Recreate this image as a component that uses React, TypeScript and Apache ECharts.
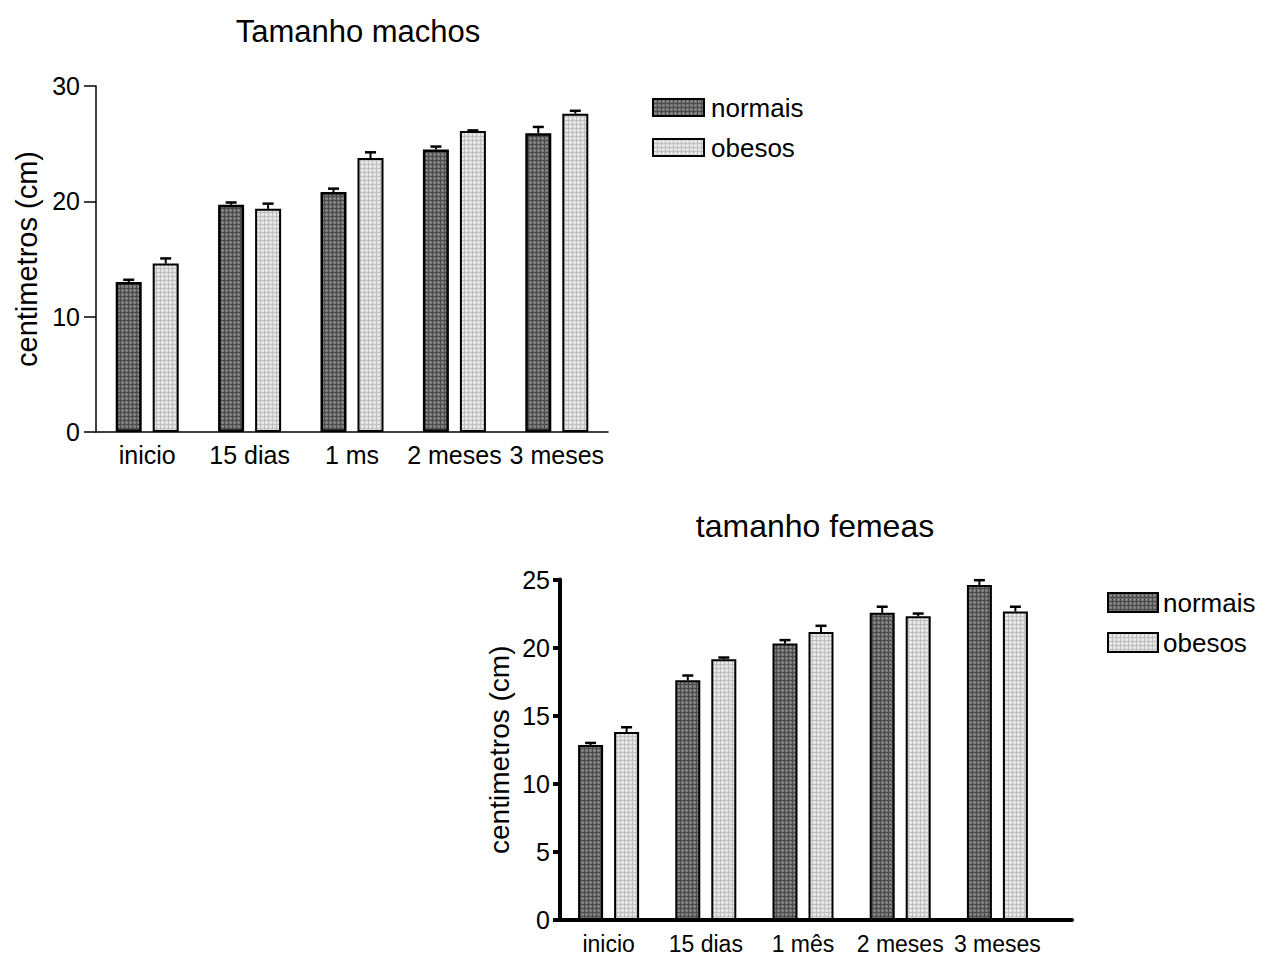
import React, { useEffect, useRef } from "react";
import * as echarts from "echarts";

const categoriesM = ["inicio", "15 dias", "1 ms", "2 meses", "3 meses"];
const machosNormais = [13.0, 19.7, 20.8, 24.5, 25.9];
const machosNormaisErr = [0.2, 0.2, 0.3, 0.25, 0.55];
const machosObesos = [14.6, 19.35, 23.75, 26.1, 27.6];
const machosObesosErr = [0.45, 0.45, 0.5, 0.05, 0.25];

const categoriesF = ["inicio", "15 dias", "1 mês", "2 meses", "3 meses"];
const femeasNormais = [12.85, 17.6, 20.3, 22.55, 24.6];
const femeasNormaisErr = [0.15, 0.35, 0.25, 0.45, 0.35];
const femeasObesos = [13.8, 19.15, 21.15, 22.3, 22.65];
const femeasObesosErr = [0.35, 0.12, 0.45, 0.2, 0.35];

const yTicksM = { min: 0, max: 30, interval: 10 };
const yTicksF = { min: 0, max: 25, interval: 5 };

const FONT = "'Liberation Sans', Arial, Helvetica, sans-serif";

function makePattern(base: string, line: string, dot: string) {
  const c = document.createElement("canvas");
  c.width = 4;
  c.height = 4;
  const ctx = c.getContext("2d")!;
  ctx.fillStyle = base;
  ctx.fillRect(0, 0, 4, 4);
  ctx.fillStyle = line;
  ctx.fillRect(0, 0, 4, 1);
  ctx.fillRect(0, 0, 1, 4);
  ctx.fillStyle = dot;
  ctx.fillRect(2, 2, 1, 1);
  return { image: c, repeat: "repeat" as const };
}

export default function App() {
  const ref = useRef<HTMLDivElement>(null);

  useEffect(() => {
    if (!ref.current) return;
    const chart = echarts.init(ref.current, undefined, { renderer: "svg" });

    const darkFill = makePattern("#777777", "#4c4c4c", "#9a9a9a");
    const lightFill = makePattern("#e2e2e2", "#c0c0c0", "#f4f4f4");

    const wM = 26;
    const gM = 11;
    const wF = 25;
    const gF = 11;

    const errSeries = (
      name: string,
      values: number[],
      errs: number[],
      offset: number,
      axisIdx: number
    ) => ({
      type: "custom",
      name,
      xAxisIndex: axisIdx,
      yAxisIndex: axisIdx,
      z: 5,
      silent: true,
      data: values.map((v, i) => [i, v, errs[i]]),
      renderItem: (params: any, api: any) => {
        const x = api.value(0);
        const v = api.value(1);
        const e = api.value(2);
        const p = api.coord([x, v]);
        const q = api.coord([x, v + e]);
        const cx = p[0] + offset;
        return {
          type: "group",
          children: [
            {
              type: "line",
              shape: { x1: cx, y1: p[1], x2: cx, y2: q[1] },
              style: { stroke: "#000", lineWidth: 2 },
            },
            {
              type: "line",
              shape: { x1: cx - 5.5, y1: q[1], x2: cx + 5.5, y2: q[1] },
              style: { stroke: "#000", lineWidth: 2.5 },
            },
          ],
        };
      },
    });

    const axisText = (size: number) => ({
      color: "#000",
      fontFamily: FONT,
      fontSize: size,
    });

    const option: any = {
      animation: false,
      backgroundColor: "#fff",
      graphic: [
        {
          type: "text",
          x: 358,
          y: 31,
          style: {
            text: "Tamanho machos",
            fontFamily: FONT,
            fontSize: 31,
            fill: "#000",
            align: "center",
            verticalAlign: "middle",
          },
        },
        {
          type: "text",
          x: 815,
          y: 526,
          style: {
            text: "tamanho femeas",
            fontFamily: FONT,
            fontSize: 32,
            fill: "#000",
            align: "center",
            verticalAlign: "middle",
          },
        },
      ],
      legend: [
        {
          data: ["normais", "obesos"],
          orient: "vertical",
          left: 652,
          top: 94.5,
          padding: 0,
          itemWidth: 51,
          itemHeight: 17,
          itemGap: 14,
          icon: "rect",
          selectedMode: false,
          textStyle: { color: "#000", fontFamily: FONT, fontSize: 26, padding: [0, 0, 0, 2] },
        },
        {
          data: ["normais", "obesos"],
          orient: "vertical",
          left: 1107,
          top: 589.5,
          padding: 0,
          itemWidth: 50,
          itemHeight: 19,
          itemGap: 14,
          icon: "rect",
          selectedMode: false,
          textStyle: { color: "#000", fontFamily: FONT, fontSize: 26, padding: [0, 0, 0, 0] },
        },
      ],
      grid: [
        { left: 96, top: 86, width: 512, height: 346 },
        { left: 560, top: 579.5, width: 486, height: 340.5 },
        { left: 560, top: 579.5, width: 512, height: 340.5 },
      ],
      xAxis: [
        {
          type: "category",
          gridIndex: 0,
          data: categoriesM,
          axisLine: { lineStyle: { color: "#000", width: 1.5 } },
          axisTick: { alignWithLabel: true, length: 9, lineStyle: { color: "#000", width: 1.5 } },
          axisLabel: { ...axisText(25), interval: 0, margin: 10 },
        },
        {
          type: "category",
          gridIndex: 1,
          data: categoriesF,
          axisLine: { lineStyle: { color: "#000", width: 4 } },
          axisTick: { alignWithLabel: true, length: 8, lineStyle: { color: "#000", width: 4 } },
          axisLabel: { ...axisText(23), interval: 0, margin: 12 },
        },
        {
          type: "value",
          gridIndex: 2,
          min: 0,
          max: 1,
          axisLine: { show: true, lineStyle: { color: "#000", width: 4 } },
          axisTick: { show: false },
          axisLabel: { show: false },
          splitLine: { show: false },
        },
      ],
      yAxis: [
        {
          type: "value",
          gridIndex: 0,
          ...yTicksM,
          name: "centimetros (cm)",
          nameLocation: "middle",
          nameGap: 55,
          nameTextStyle: axisText(29),
          axisLine: { show: true, lineStyle: { color: "#000", width: 1.5 } },
          axisTick: { show: true, length: 12, lineStyle: { color: "#000", width: 1.5 } },
          axisLabel: { ...axisText(25), margin: 16 },
          splitLine: { show: false },
        },
        {
          type: "value",
          gridIndex: 1,
          ...yTicksF,
          name: "centimetros (cm)",
          nameLocation: "middle",
          nameGap: 47,
          nameTextStyle: axisText(28),
          axisLine: { show: true, lineStyle: { color: "#000", width: 4 } },
          axisTick: { show: true, length: 7, lineStyle: { color: "#000", width: 4 } },
          axisLabel: { ...axisText(25), margin: 10 },
          splitLine: { show: false },
        },
        {
          type: "value",
          gridIndex: 2,
          show: false,
        },
      ],
      series: [
        {
          type: "bar",
          name: "normais",
          xAxisIndex: 0,
          yAxisIndex: 0,
          data: machosNormais,
          barWidth: wM,
          barGap: `${(gM / wM) * 100}%`,
          itemStyle: { color: darkFill, borderColor: "#000", borderWidth: 2.5 },
        },
        {
          type: "bar",
          name: "obesos",
          xAxisIndex: 0,
          yAxisIndex: 0,
          data: machosObesos,
          barWidth: wM,
          barGap: `${(gM / wM) * 100}%`,
          itemStyle: { color: lightFill, borderColor: "#000", borderWidth: 2 },
        },
        errSeries("errMN", machosNormais, machosNormaisErr, -(wM + gM) / 2, 0),
        errSeries("errMO", machosObesos, machosObesosErr, (wM + gM) / 2, 0),
        {
          type: "bar",
          name: "normais",
          xAxisIndex: 1,
          yAxisIndex: 1,
          data: femeasNormais,
          barWidth: wF,
          barGap: `${(gF / wF) * 100}%`,
          itemStyle: { color: darkFill, borderColor: "#000", borderWidth: 2 },
        },
        {
          type: "bar",
          name: "obesos",
          xAxisIndex: 1,
          yAxisIndex: 1,
          data: femeasObesos,
          barWidth: wF,
          barGap: `${(gF / wF) * 100}%`,
          itemStyle: { color: lightFill, borderColor: "#000", borderWidth: 2 },
        },
        errSeries("errFN", femeasNormais, femeasNormaisErr, -(wF + gF) / 2, 1),
        errSeries("errFO", femeasObesos, femeasObesosErr, (wF + gF) / 2, 1),
      ],
    };

    chart.setOption(option);
    return () => chart.dispose();
  }, []);

  return (
    <div
      ref={ref}
      style={{ position: "absolute", left: 0, top: 0, width: 1265, height: 957 }}
    />
  );
}
